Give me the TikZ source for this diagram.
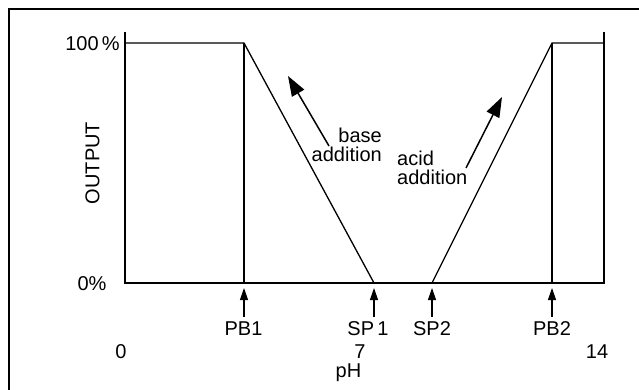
\documentclass[tikz,border=0pt]{standalone}
\usepackage{fontspec}
\setmainfont{Liberation Sans}
\usetikzlibrary{arrows.meta}
\newcommand{\lblfont}{\fontsize{20}{22}\selectfont}
\tikzset{
  lbl/.style={inner sep=0pt, font=\lblfont},
  axisline/.style={line width=1.3pt},
  frameline/.style={line width=2pt},
  bigarrow/.style={line width=1.5pt, -{Triangle[length=20pt,width=14pt]}},
  smallarrow/.style={line width=1.1pt, -{Triangle[length=12pt,width=8pt]}}
}
\begin{document}
\begin{tikzpicture}[x=1pt,y=-1pt]
\useasboundingbox (0,0) rectangle (639,390);
% frame (left and top visible)
\draw[frameline] (9,390) -- (9,9.5) -- (639,9.5);
% key points
\coordinate (ytop) at (125,32);
\coordinate (o) at (125,283);
\coordinate (h0) at (125,43);
\coordinate (pb1t) at (244,43);
\coordinate (pb1b) at (244,283);
\coordinate (sp1) at (374,283);
\coordinate (sp2) at (432,283);
\coordinate (pb2t) at (552,43);
\coordinate (pb2b) at (552,283);
\coordinate (rtop) at (604,32);
\coordinate (rh) at (604,43);
\coordinate (rb) at (604,283);
% axes
\draw[axisline] (ytop) -- (o) -- (rb) -- (rtop);
% curve
\draw[axisline] (h0) -- (pb1t) -- (sp1);
\draw[axisline] (sp2) -- (pb2t) -- (rh);
\draw[axisline] (pb1t) -- (pb1b);
\draw[axisline] (pb2t) -- (pb2b);
% axis labels
\node[lbl, anchor=base east] (l100) at (120,51) {100\,\%};
\node[lbl, anchor=base] (l0p) at (92,290) {0\%};
\node[lbl, rotate=90] (out) at (92.5,163) {OUTPUT};
\node[lbl, anchor=base] (x0) at (121,358) {0};
\node[lbl, anchor=base] (x7) at (360,358) {7};
\node[lbl, anchor=base] (x14) at (597,358) {14};
\node[lbl, anchor=base] (ph) at (348.5,377) {pH};
% point labels
\node[lbl, anchor=base] (tpb1) at (243.5,335) {PB1};
\node[lbl, anchor=base] (tsp1) at (368,335) {SP\,1};
\node[lbl, anchor=base] (tsp2) at (432,335) {SP2};
\node[lbl, anchor=base] (tpb2) at (552,335) {PB2};
\coordinate (apb1) at (244,288);
\coordinate (asp1) at (374,288);
\coordinate (asp2) at (432,288);
\coordinate (apb2) at (552,288);
\coordinate (spb1) at (244,317);
\coordinate (ssp1) at (374,317);
\coordinate (ssp2) at (432,317);
\coordinate (spb2) at (552,317);
\draw[smallarrow] (spb1) -- (apb1);
\draw[smallarrow] (ssp1) -- (asp1);
\draw[smallarrow] (ssp2) -- (asp2);
\draw[smallarrow] (spb2) -- (apb2);
% addition labels
\node[lbl, anchor=base east] (tbase) at (382,143) {base};
\node[lbl, anchor=base east] (tbadd) at (382,162) {addition};
\node[lbl, anchor=base west] (tacid) at (397,165) {acid};
\node[lbl, anchor=base west] (taadd) at (397,184) {addition};
\coordinate (bs) at (329,146);
\coordinate (bt) at (288,76);
\coordinate (as) at (466,168);
\coordinate (at2) at (502,97);
\draw[bigarrow] (bs) -- (bt);
\draw[bigarrow] (as) -- (at2);
\end{tikzpicture}
\end{document}
